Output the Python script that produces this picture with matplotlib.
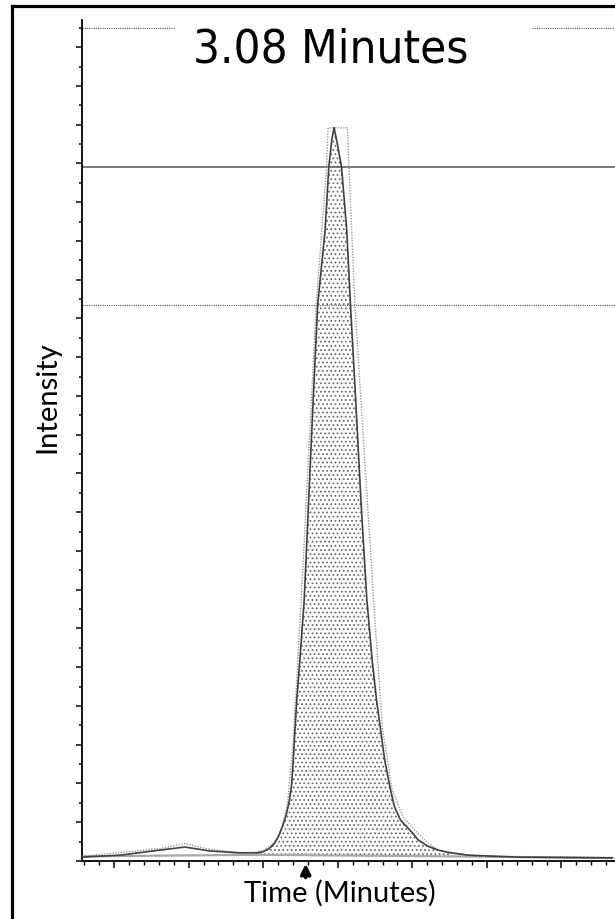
import numpy as np
import matplotlib
matplotlib.use('Agg')
import matplotlib.pyplot as plt
from matplotlib.lines import Line2D
from matplotlib.ticker import MultipleLocator, NullFormatter

# measured trace (time in minutes, intensity in arbitrary units)
trace_t = [2.757, 2.808, 2.861, 2.895, 2.928, 2.968, 2.992, 3.000, 3.008, 3.015,
           3.021, 3.026, 3.031, 3.035, 3.038, 3.040, 3.042, 3.045, 3.050, 3.055,
           3.061, 3.067, 3.073, 3.083, 3.088, 3.092, 3.095, 3.099, 3.105, 3.112,
           3.117, 3.124, 3.131, 3.139, 3.146, 3.152, 3.158, 3.163, 3.170, 3.176,
           3.184, 3.199, 3.208, 3.221, 3.235, 3.248, 3.275, 3.341, 3.468]
trace_v = [0.10, 0.15, 0.28, 0.36, 0.26, 0.21, 0.21, 0.24, 0.32, 0.45,
           0.65, 0.90, 1.20, 1.55, 1.95, 2.50, 3.20, 4.15, 5.40, 6.74,
           9.32, 11.9, 14.35, 16.28, 17.91, 18.61, 18.92, 18.55, 17.91, 16.28,
           14.35, 11.9, 9.32, 6.74, 5.20, 4.15, 3.30, 2.60, 1.90, 1.40,
           1.06, 0.75, 0.54, 0.38, 0.28, 0.22, 0.15, 0.10, 0.08]

# reference (dotted) trace
ref_t = [2.757, 2.861, 2.895, 2.928, 2.968, 2.988, 3.000, 3.012, 3.021, 3.028,
         3.033, 3.040, 3.051, 3.071, 3.085, 3.087, 3.113, 3.115, 3.123, 3.148,
         3.160, 3.173, 3.187, 3.203, 3.220, 3.235, 3.275, 3.341, 3.468]
ref_v = [0.12, 0.32, 0.45, 0.30, 0.22, 0.22, 0.27, 0.42, 0.67, 1.05,
         1.57, 3.00, 6.74, 14.35, 17.91, 18.92, 18.92, 17.91, 14.35, 6.74,
         3.40, 1.83, 1.15, 0.80, 0.48, 0.28, 0.15, 0.10, 0.08]

# integration baseline
base_t = [2.757, 2.995, 3.25, 3.468]
base_v = [0.12, 0.16, 0.12, 0.08]
peak_start, peak_end = 2.995, 3.25

level_solid = 17.9
level_dotted = 14.35
level_top = 21.5
top_gaps = (2.881, 3.361)
marker_t = 3.057
title = "3.08 Minutes"

W, H = 615, 919
fig = plt.figure(figsize=(W / 100, H / 100), dpi=100)
plt.rcParams['hatch.linewidth'] = 0.8
plt.rcParams['hatch.color'] = '#6a6a6a'

ax = fig.add_axes([82 / W, 1 - 861 / H, (W - 82) / W + 0.01, (861 - 20) / H])
ax.set_xlim(2.757, 3.468 + 0.012)
ax.set_ylim(0, 21.7)

# stippled peak area
tt = np.linspace(peak_start, peak_end, 400)
vv = np.interp(tt, trace_t, trace_v)
bb = np.interp(tt, base_t, base_v)
ax.fill_between(tt, bb, vv, facecolor='white', hatch='....',
                edgecolor='#6a6a6a', linewidth=0, zorder=1)

ax.plot(base_t, base_v, color='#a8a8a8', lw=1.6, zorder=2)
ax.plot(ref_t, ref_v, color='#9a9a9a', lw=1.0, ls=(0, (1, 1)), zorder=3)
ax.plot(trace_t, trace_v, color='#404040', lw=1.2, zorder=4)

ax.axhline(level_solid, color='#555555', lw=1.1, zorder=2)
ax.axhline(level_dotted, color='#555555', lw=0.8, ls=(0, (1, 1)), zorder=2)
ax.plot([2.757, top_gaps[0]], [level_top, level_top], color='#555555',
        lw=0.8, ls=(0, (1, 1)))
ax.plot([top_gaps[1], 3.48], [level_top, level_top], color='#555555',
        lw=0.8, ls=(0, (1, 1)))

for s in ['top', 'right']:
    ax.spines[s].set_visible(False)
for s in ['left', 'bottom']:
    ax.spines[s].set_linewidth(1.3)

ax.yaxis.set_major_locator(MultipleLocator(1))
ax.yaxis.set_minor_locator(MultipleLocator(0.5))
ax.xaxis.set_major_locator(MultipleLocator(0.1))
ax.xaxis.set_minor_locator(MultipleLocator(0.02))
ax.xaxis.set_major_formatter(NullFormatter())
ax.yaxis.set_major_formatter(NullFormatter())
ax.tick_params(axis='y', which='major', length=4, width=1.1, direction='out')
ax.tick_params(axis='y', which='minor', length=2, width=1.1, direction='out')
ax.tick_params(axis='x', which='major', length=5, width=1.1, direction='out')
ax.tick_params(axis='x', which='minor', length=3, width=1.0, direction='out')

# arrow marker under the axis
ax.annotate('', xy=(marker_t, 0), xycoords=('data', 'axes fraction'),
            xytext=(0, -12), textcoords='offset points',
            arrowprops=dict(arrowstyle='-|>', color='black', lw=2.4,
                            mutation_scale=15, shrinkA=0, shrinkB=2),
            annotation_clip=False)

fig.text(331 / W, 1 - 50 / H, title, ha='center', va='center',
         fontsize=34, family='DejaVu Sans', stretch='condensed')
fig.text(340 / W, 1 - 893 / H, 'Time (Minutes)', ha='center', va='center',
         fontsize=21, family='Lato')
fig.text(47 / W, 1 - 397 / H, 'Intensity', ha='center', va='center',
         fontsize=21, family='Lato', rotation=90)

# outer frame (left and top edges visible)
fig.add_artist(Line2D([12 / W, 12 / W], [0, 1 - 6 / H], color='black', lw=2.3))
fig.add_artist(Line2D([12 / W, 1], [1 - 6 / H, 1 - 6 / H], color='black', lw=2.3))

plt.savefig('out.png', dpi=100)
